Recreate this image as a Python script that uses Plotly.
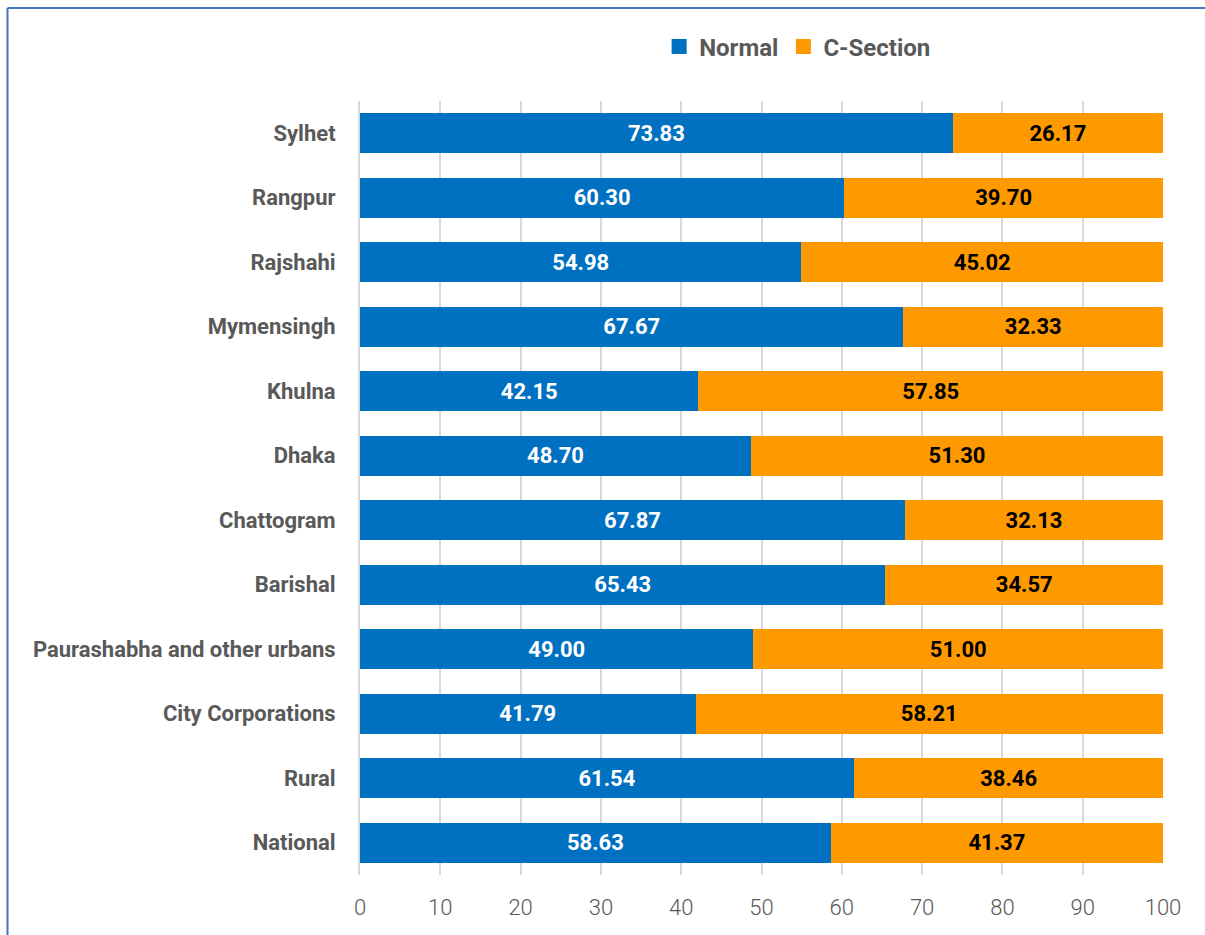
import plotly.graph_objects as go

categories = ["National", "Rural", "City Corporations", "Paurashabha and other urbans",
              "Barishal", "Chattogram", "Dhaka", "Khulna", "Mymensingh",
              "Rajshahi", "Rangpur", "Sylhet"]
normal = [58.63, 61.54, 41.79, 49.00, 65.43, 67.87, 48.70, 42.15, 67.67, 54.98, 60.30, 73.83]
csection = [41.37, 38.46, 58.21, 51.00, 34.57, 32.13, 51.30, 57.85, 32.33, 45.02, 39.70, 26.17]
x_ticks = [0, 10, 20, 30, 40, 50, 60, 70, 80, 90, 100]
series_names = ["Normal", "C-Section"]
series_colors = ["#0070C0", "#FF9900"]

FONT = "Roboto"
fig = go.Figure()
fig.add_trace(go.Bar(
    y=categories, x=normal, orientation="h", name=series_names[0],
    marker=dict(color=series_colors[0], line=dict(width=0)), showlegend=False,
    texttemplate="%{x:.2f}", textposition="inside", insidetextanchor="middle",
    textfont=dict(family=FONT, size=22, color="white", weight="bold"),
    constraintext="none",
))
fig.add_trace(go.Bar(
    y=categories, x=csection, orientation="h", name=series_names[1],
    marker=dict(color=series_colors[1], line=dict(width=0)), showlegend=False,
    texttemplate="%{x:.2f}", textposition="inside", insidetextanchor="middle",
    textfont=dict(family=FONT, size=22, color="black", weight="bold"),
    constraintext="none",
))
# legend-only entries with larger square swatches
for nm, col in zip(series_names, series_colors):
    fig.add_trace(go.Scatter(
        x=[None], y=[None], mode="markers", name=nm,
        marker=dict(symbol="square", size=15, color=col), showlegend=True,
    ))

# frame: left and top edges only (the rest runs off the page)
fx0 = (7.5 - 360) / 803
fx1 = (1260 - 360) / 803
fy0 = (875 - 980) / 774
fy1 = (875 - 8) / 774
frame = dict(color="#4472C4", width=2)

fig.update_layout(
    barmode="stack",
    bargap=0.38,
    width=1205, height=935,
    margin=dict(l=360, r=42, t=101, b=60),
    paper_bgcolor="white", plot_bgcolor="white",
    font=dict(family=FONT, color="#595959"),
    uniformtext=dict(minsize=22, mode="show"),
    legend=dict(
        orientation="h", x=0.545, xanchor="center", y=1.07, yanchor="middle",
        font=dict(family=FONT, size=24, color="#595959", weight="bold"),
        traceorder="normal", itemwidth=30,
    ),
    xaxis=dict(
        range=[0, 100], tickvals=x_ticks, showgrid=True, gridcolor="#D9D9D9", gridwidth=2,
        zeroline=False, showline=False, ticks="",
        tickfont=dict(family=FONT, size=22, color="#595959", weight=300),
        ticklabelstandoff=17,
    ),
    yaxis=dict(
        categoryorder="array", categoryarray=categories,
        showgrid=False, zeroline=False, showline=True, linecolor="#D9D9D9", linewidth=2,
        ticks="", ticklabelstandoff=18,
        tickfont=dict(family=FONT, size=22, color="#595959", weight="bold"),
    ),
    shapes=[
        dict(type="line", xref="paper", yref="paper", x0=fx0, x1=fx0, y0=fy0, y1=fy1,
             line=frame, layer="below"),
        dict(type="line", xref="paper", yref="paper", x0=fx0, x1=fx1, y0=fy1, y1=fy1,
             line=frame, layer="below"),
    ],
)

fig.write_html("out.html", config={"displayModeBar": False},
               post_script="document.body.style.margin='0';")
